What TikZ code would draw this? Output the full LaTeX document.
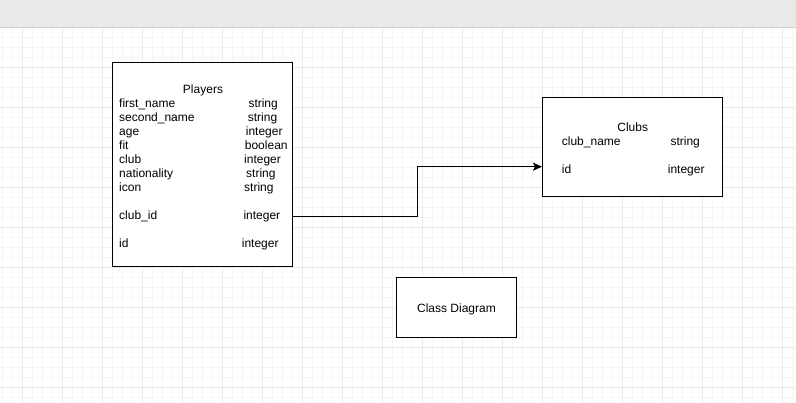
\documentclass[tikz,border=0pt]{standalone}
\usepackage{fontspec}
\setmainfont{Liberation Sans}
\usetikzlibrary{arrows.meta}
\definecolor{bandgray}{HTML}{E9E9E9}
\definecolor{bandline}{HTML}{D2D2D2}
\definecolor{gridmajor}{HTML}{EAEAEA}
\definecolor{gridminor}{HTML}{F5F5F5}
\tikzset{
  classbox/.style={draw=black, line width=1pt, fill=white, inner sep=0pt},
  lbl/.style={inner sep=0pt, anchor=west, yshift=-1.3pt, text height=9pt, text depth=2.5pt, font=\fontsize{12}{14}\selectfont},
  ctr/.style={inner sep=0pt, anchor=center, yshift=-1.3pt, text height=9pt, text depth=2.5pt, font=\fontsize{12}{14}\selectfont},
  conn/.style={draw=black, line width=1pt},
}
\begin{document}
\begin{tikzpicture}[x=1pt,y=-1pt]
\useasboundingbox (0,0) rectangle (796,403);
\fill[white] (0,0) rectangle (796,403);
% grid minor
\foreach \x in {2.7,12.7,...,796} {\draw[gridminor, line width=0.8pt] (\x,27.3) -- (\x,403);}
\foreach \y in {37.3,47.3,...,403} {\draw[gridminor, line width=0.8pt] (0,\y) -- (796,\y);}
% grid major
\foreach \x in {22.7,62.7,...,796} {\draw[gridmajor, line width=1pt] (\x,27.3) -- (\x,403);}
\foreach \y in {67.3,107.3,...,403} {\draw[gridmajor, line width=1pt] (0,\y) -- (796,\y);}
% top band
\fill[bandgray] (0,0) rectangle (796,27);
\draw[bandline, line width=1pt] (0,27.3) -- (796,27.3);

% boxes
\node[classbox, minimum width=180pt, minimum height=204.5pt] (players) at (202.5,164.75) {};
\node[classbox, minimum width=179.5pt, minimum height=99.5pt] (clubs) at (632.25,147.25) {};
\node[classbox, minimum width=120pt, minimum height=60pt] (cd) at (456.5,307.5) {};

% Players texts
\node[ctr] (ptitle) at (203,88.5) {Players};
\node[lbl] (p1) at (119,102.7) {first\_name};
\node[lbl] (p2) at (119,116.7) {second\_name};
\node[lbl] (p3) at (119,130.7) {age};
\node[lbl] (p4) at (119,144.7) {fit};
\node[lbl] (p5) at (119,158.7) {club};
\node[lbl] (p6) at (119,172.7) {nationality};
\node[lbl] (p7) at (119,186.7) {icon};
\node[lbl] (p8) at (119,214.7) {club\_id};
\node[lbl] (p9) at (119,242.7) {id};
\node[lbl] (t1) at (248.3,102.7) {string};
\node[lbl] (t2) at (247.7,116.7) {string};
\node[lbl] (t3) at (245.7,130.7) {integer};
\node[lbl] (t4) at (244.7,144.7) {boolean};
\node[lbl] (t5) at (244,158.7) {integer};
\node[lbl] (t6) at (246,172.7) {string};
\node[lbl] (t7) at (244,186.7) {string};
\node[lbl] (t8) at (243.3,214.7) {integer};
\node[lbl] (t9) at (241.7,242.7) {integer};

% Clubs texts
\node[ctr] (ctitle) at (632.7,126.7) {Clubs};
\node[lbl] (c1) at (561.7,141) {club\_name};
\node[lbl] (ct1) at (670.3,141) {string};
\node[lbl] (c2) at (561.7,169) {id};
\node[lbl] (ct2) at (667.7,169) {integer};

% Class Diagram text
\node[ctr] (cdt) at (cd.center) {Class Diagram};

% connector
\coordinate (pout) at (players.east |- 0,216.3);
\coordinate (b1) at (417.3,216.3);
\coordinate (b2) at (417.3,166.7);
\coordinate (cin) at (clubs.west |- 0,166.7);
\draw[conn, -{Stealth[length=9pt, width=8pt, inset=2pt]}] (pout) -- (b1) -- (b2) -- (cin);
\end{tikzpicture}
\end{document}
